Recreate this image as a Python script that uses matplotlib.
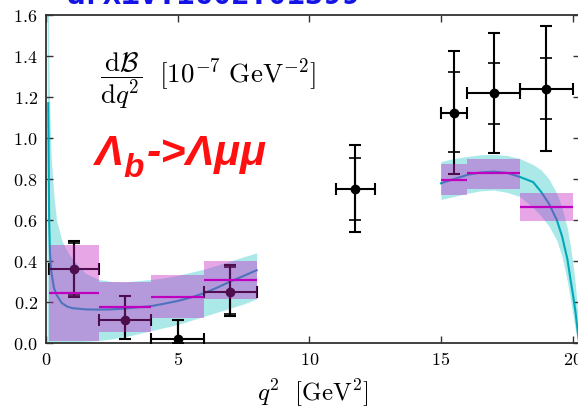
import matplotlib
matplotlib.use("Agg")
import matplotlib.pyplot as plt
import numpy as np

plt.rcParams["mathtext.fontset"] = "cm"
plt.rcParams["font.family"] = ["DejaVu Serif"]

# LHCb measurement: bins, central values, stat and total errors.
data_lo_edge = [0.1, 2.0, 4.0, 6.0, 11.0, 15.0, 16.0, 18.0]
data_hi_edge = [2.0, 4.0, 6.0, 8.0, 12.5, 16.0, 18.0, 20.0]
data_x = [1.05, 3.0, 5.0, 7.0, 11.75, 15.5, 17.0, 19.0]
data_y = [0.36, 0.11, 0.02, 0.25, 0.75, 1.12, 1.22, 1.24]
tot_up = [0.14, 0.12, 0.09, 0.13, 0.216, 0.306, 0.29, 0.306]
tot_dn = [0.134, 0.09, 0.02, 0.12, 0.207, 0.297, 0.292, 0.301]
stat_up = [0.13, 0.12, 0.09, 0.12, 0.154, 0.20, 0.147, 0.152]
stat_dn = [0.126, 0.09, 0.02, 0.11, 0.15, 0.186, 0.152, 0.148]

# Binned SM prediction (magenta boxes).
pred_lo_edge = [0.1, 2.0, 4.0, 6.0, 15.0, 16.0, 18.0]
pred_hi_edge = [2.0, 4.0, 6.0, 8.0, 16.0, 18.0, 20.0]
pred_c = [0.244, 0.176, 0.226, 0.307, 0.795, 0.828, 0.665]
pred_lo = [0.011, 0.055, 0.12, 0.213, 0.722, 0.75, 0.597]
pred_hi = [0.477, 0.296, 0.33, 0.40, 0.872, 0.90, 0.733]

# Differential prediction, low q^2 region.
q_band_low = [0.045, 0.09, 0.1, 0.12, 0.15, 0.2, 0.3, 0.4, 0.6, 0.8, 1.0, 1.5,
              2.0, 2.5, 3.0, 4.0, 4.5, 5.0, 5.5, 6.0, 6.5, 7.0, 7.5, 8.0]
band_low_lo = [0.0, 0.0, 0.005, 0.005, 0.005, 0.005, 0.005, 0.005, 0.005, 0.005, 0.005, 0.008,
               0.012, 0.02, 0.03, 0.06, 0.075, 0.09, 0.11, 0.13, 0.15, 0.17, 0.19, 0.215]
band_low_hi = [1.7, 1.65, 1.5, 1.3, 1.1, 0.9, 0.72, 0.6, 0.5, 0.45, 0.41, 0.34,
               0.31, 0.30, 0.298, 0.31, 0.318, 0.33, 0.345, 0.36, 0.38, 0.40, 0.42, 0.44]
q_curve_low = [0.085, 0.1, 0.12, 0.15, 0.2, 0.3, 0.4, 0.6, 0.8, 1.0, 1.5, 2.0,
               2.5, 3.0, 4.0, 4.5, 5.0, 5.5, 6.0, 6.5, 7.0, 7.5, 8.0]
curve_low = [1.17, 0.90, 0.60, 0.44, 0.35, 0.27, 0.235, 0.195, 0.178, 0.170, 0.164, 0.163,
             0.164, 0.168, 0.18, 0.192, 0.205, 0.222, 0.243, 0.27, 0.30, 0.327, 0.355]

# Differential prediction, high q^2 region.
q_high = [15.0, 15.5, 16.0, 16.5, 17.0, 17.5, 18.0, 18.5, 18.8, 19.1, 19.4, 19.6,
          19.8, 19.92, 20.02, 20.11, 20.2, 20.25]
curve_high = [0.779, 0.80, 0.82, 0.832, 0.836, 0.83, 0.81, 0.785, 0.738, 0.68, 0.60, 0.52,
              0.41, 0.31, 0.23, 0.15, 0.05, 0.0]
band_high_lo = [0.70, 0.715, 0.73, 0.742, 0.746, 0.735, 0.714, 0.66, 0.62, 0.57, 0.50, 0.42,
                0.30, 0.21, 0.13, 0.06, 0.0, 0.0]
band_high_hi = [0.885, 0.90, 0.91, 0.918, 0.92, 0.915, 0.90, 0.87, 0.845, 0.80, 0.73, 0.66,
                0.56, 0.47, 0.38, 0.28, 0.14, 0.05]

xticks = [0, 5, 10, 15, 20]
yticks = [0.0, 0.2, 0.4, 0.6, 0.8, 1.0, 1.2, 1.4, 1.6]

W, H = 578, 409
fig = plt.figure(figsize=(W / 100, H / 100), dpi=100)
ax = fig.add_axes([46 / W, 66 / H, 534 / W, 328 / H])

# theory band and curve
ax.fill_between(q_band_low, band_low_lo, band_low_hi, color="c", alpha=0.33, lw=0, zorder=1)
ax.fill_between(q_high, band_high_lo, band_high_hi, color="c", alpha=0.33, lw=0, zorder=1)
ax.plot(q_curve_low, curve_low, color="#00a8b8", lw=1.5, zorder=2)
ax.plot(q_high, curve_high, color="#00a8b8", lw=1.5, zorder=2)

# data points
x = np.array(data_x)
xerr = [x - np.array(data_lo_edge), np.array(data_hi_edge) - x]
ax.errorbar(x, data_y, xerr=xerr, yerr=[tot_dn, tot_up], fmt="o", color="black",
            ms=6, elinewidth=1.5, capsize=4, capthick=1.5, zorder=3)
ax.errorbar(x, data_y, yerr=[stat_dn, stat_up], fmt="none", ecolor="black",
            elinewidth=1.5, capsize=4, capthick=1.2, zorder=3)

# binned prediction boxes
lo_e = np.array(pred_lo_edge)
widths = np.array(pred_hi_edge) - lo_e
ax.bar(lo_e, np.array(pred_hi) - np.array(pred_lo), bottom=pred_lo, width=widths,
       align="edge", color="#c425c4", alpha=0.4, lw=0, zorder=4)
ax.hlines(pred_c, pred_lo_edge, pred_hi_edge, color="#c000c0", lw=1.6, zorder=5)

ax.set_xlim(0, 20.28)
ax.set_ylim(0, 1.6)
ax.set_xticks(xticks)
ax.set_xticklabels([f"${t}$" for t in xticks])
ax.set_yticks(yticks)
ax.set_yticklabels([f"${t:.1f}$" for t in yticks])
ax.tick_params(direction="in", top=True, right=True, length=5, width=1,
               labelsize=13, pad=6, color="#333333")
for s in ax.spines.values():
    s.set_linewidth(1.3)
    s.set_color("#333333")

ax.set_xlabel(r"$q^2\ \ [\mathrm{GeV}^2]$", fontsize=18, labelpad=6)

# axis-title style label in the plot
fig.text(100 / W, 1 - 81 / H,
         r"$\dfrac{\mathrm{d}\mathcal{B}}{\mathrm{d}q^2}\ \ [10^{-7}\ \mathrm{GeV}^{-2}]$",
         fontsize=19.5, ha="left", va="center")

# red annotation
red = dict(color="#ff1010", fontweight="bold", fontstyle="italic", family="Liberation Sans")
fig.text(95 / W, 1 - 165 / H, "\u039b", fontsize=31, va="baseline", **red)
fig.text(123 / W, 1 - 177 / H, "b", fontsize=24, va="baseline", **red)
fig.text(147 / W, 1 - 165 / H, "->\u039b\u03bc\u03bc", fontsize=31, va="baseline", **red)

# reference tag at the top, mostly cut off
fig.text(214 / W, 1 - 4 / H, "arXiv:1602.01399", fontsize=22, ha="center", va="baseline",
         color="#1414e6", fontweight="bold", family="DejaVu Sans Mono")

fig.savefig("out.png", dpi=100)
